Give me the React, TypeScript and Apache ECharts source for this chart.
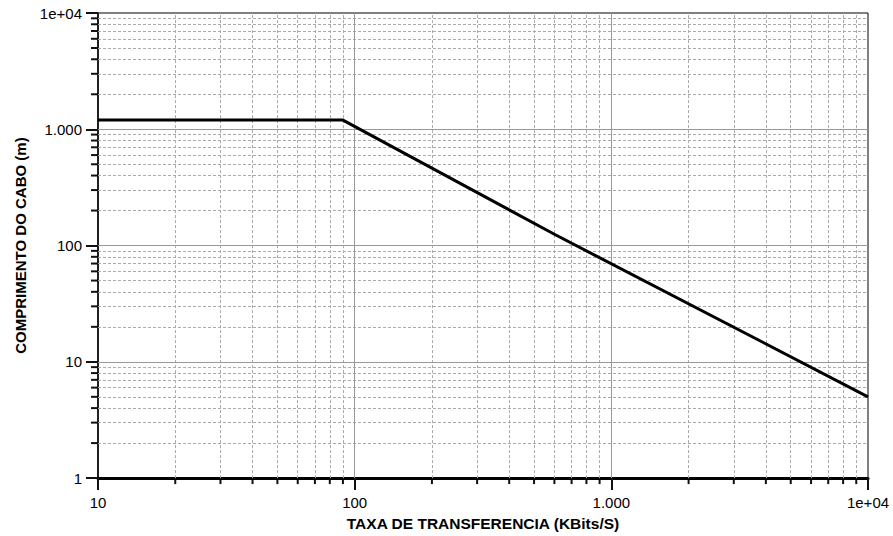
import React, { useEffect, useRef } from "react";
import * as echarts from "echarts";

const xMajor = [10, 100, 1000, 10000];
const xMinor = [20, 30, 40, 50, 60, 70, 80, 90, 200, 300, 400, 500, 600, 700, 800, 900, 2000, 3000, 4000, 5000, 6000, 7000, 8000, 9000];
const yMajor = [1, 10, 100, 1000, 10000];
const yMinor = [2, 3, 4, 5, 6, 7, 8, 9, 20, 30, 40, 50, 60, 70, 80, 90, 200, 300, 400, 500, 600, 700, 800, 900, 2000, 3000, 4000, 5000, 6000, 7000, 8000, 9000];
const rateKbps = [10, 90, 600, 10000];
const lengthM = [1200, 1200, 125, 5];

const X_MIN = 10;
const X_MAX = 10000;
const Y_MIN = 1;
const Y_MAX = 10000;

const FONT = "'Liberation Sans', Arial, Helvetica, sans-serif";
const TICK_COLOR = "#111111";

function fmt(v: number): string {
  if (v >= 10000) return "1e+04";
  if (v === 1000) return "1.000";
  return String(v);
}

export default function App() {
  const ref = useRef<HTMLDivElement>(null);
  useEffect(() => {
    if (!ref.current) return;
    const chart = echarts.init(ref.current, undefined, { renderer: "svg" });
    const minorStyle = { type: [3, 2] as any, color: "#aaaaaa", width: 1 };
    const majorStyle = { type: "solid" as any, color: "#999999", width: 1 };
    const gridLines: any[] = [];
    xMinor.forEach((v) => gridLines.push({ xAxis: v, lineStyle: minorStyle }));
    yMinor.forEach((v) => gridLines.push({ yAxis: v, lineStyle: minorStyle }));
    xMajor.slice(1, -1).forEach((v) => gridLines.push({ xAxis: v, lineStyle: majorStyle }));
    yMajor.slice(1, -1).forEach((v) => gridLines.push({ yAxis: v, lineStyle: majorStyle }));

    chart.setOption({
      animation: false,
      grid: {
        left: 98,
        right: 25,
        top: 13,
        bottom: 55,
        show: true,
        borderColor: "#000",
        borderWidth: 1,
      },
      xAxis: {
        type: "log",
        logBase: 10,
        min: X_MIN,
        max: X_MAX,
        name: "TAXA DE TRANSFERENCIA (KBits/S)",
        nameLocation: "middle",
        nameGap: 32,
        nameTextStyle: { fontFamily: FONT, fontWeight: "bold", fontSize: 15.5, color: "#000" },
        axisLine: { show: true, lineStyle: { color: "#000", width: 3 } },
        axisTick: { show: true, length: 12, lineStyle: { color: TICK_COLOR, width: 2 } },
        axisLabel: {
          formatter: (v: number) => fmt(v),
          fontFamily: FONT,
          fontSize: 15,
          color: "#000",
          margin: 17,
        },
        splitLine: { show: false },
      },
      yAxis: {
        type: "log",
        logBase: 10,
        min: Y_MIN,
        max: Y_MAX,
        name: "COMPRIMENTO DO CABO (m)",
        nameLocation: "middle",
        nameGap: 70,
        nameTextStyle: { fontFamily: FONT, fontWeight: "bold", fontSize: 15, color: "#000" },
        axisLine: { show: true, lineStyle: { color: "#000", width: 1.5 } },
        axisTick: { show: true, length: 12, lineStyle: { color: TICK_COLOR, width: 2 } },
        axisLabel: {
          formatter: (v: number) => fmt(v),
          fontFamily: FONT,
          fontSize: 15,
          color: "#000",
          margin: 16,
        },
        splitLine: { show: false },
      },
      series: [
        {
          type: "line",
          name: "grid",
          data: [],
          silent: true,
          z: 1,
          markLine: {
            silent: true,
            symbol: ["none", "none"],
            label: { show: false },
            animation: false,
            data: gridLines,
          },
        },
        {
          type: "line",
          name: "cabo",
          data: rateKbps.map((r, i) => [r, lengthM[i]]),
          symbol: "none",
          z: 5,
          lineStyle: { color: "#000", width: 3 },
        },
      ],
    });

    const ticks: any[] = [];
    const addX = (v: number, len: number) => {
      const p = chart.convertToPixel({ gridIndex: 0 }, [v, Y_MIN]) as number[];
      if (!p) return;
      ticks.push({
        type: "line",
        shape: { x1: p[0], y1: p[1], x2: p[0], y2: p[1] + len },
        style: { stroke: TICK_COLOR, lineWidth: 2 },
      });
    };
    const addY = (v: number, len: number) => {
      const p = chart.convertToPixel({ gridIndex: 0 }, [X_MIN, v]) as number[];
      if (!p) return;
      ticks.push({
        type: "line",
        shape: { x1: p[0], y1: p[1], x2: p[0] - len, y2: p[1] },
        style: { stroke: TICK_COLOR, lineWidth: 2 },
      });
    };
    xMinor.forEach((v) => addX(v, 6));
    yMinor.forEach((v) => addY(v, 7));
    chart.setOption({ graphic: ticks });

    return () => chart.dispose();
  }, []);
  return (
    <div
      ref={ref}
      style={{ position: "absolute", left: 0, top: 0, width: 893, height: 536 }}
    />
  );
}
